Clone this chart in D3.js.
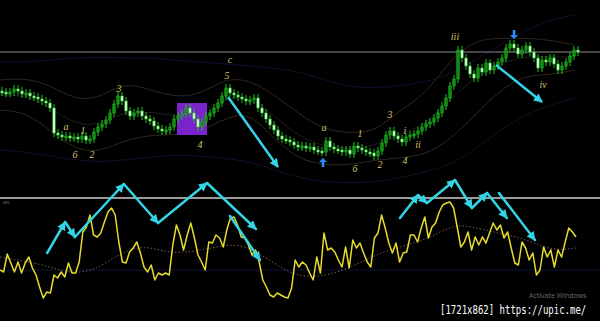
<!DOCTYPE html>
<meta charset="utf-8">
<html>
<head>
<title>Wave count chart</title>
<style>
    *{ margin:0; padding:0;}
    body{ background:#000; overflow:hidden;}
</style>
<script src="https://cdnjs.cloudflare.com/ajax/libs/d3/7.8.5/d3.min.js"></script>
</head>
<body>
<div id="chart"></div>
<script>
    // candle closes (one per bar), price units
    var closes = [108,107,108,111,109,106,107,104,103,101,99,97,92,67,65,63,64,62,63,61,
        64,60,61,68,73,76,80,87,96,104,99,89,84,87,89,84,81,79,74,71,
        69,70,73,81,84,86,92,87,81,73,78,84,87,92,97,104,112,107,105,103,
        101,99,100,102,92,87,81,75,70,64,61,60,58,55,53,54,52,53,50,49,
        48,59,53,51,50,48,50,46,54,52,50,48,47,44,49,57,65,69,64,61,
        58,63,65,66,69,73,76,78,82,87,94,102,114,121,150,142,134,126,122,132,
        128,137,130,134,138,142,152,156,152,146,150,154,148,142,132,140,138,142,136,130,
        134,138,144,150,148];

    // bollinger style bands, sampled every 25 px of screen
    var upperBand  = [120,122,115,100,102,118,110,103,105,122,120,105,85,70,67,68,90,105,140,160,162,162,160,155];
    var middleBand = [105,105,93,75,75,89,88,84,87,102,104,83,63,53,51,54,66,75,100,123,136,144,143,143];
    var lowerBand  = [90,88,70,50,48,60,65,65,68,82,88,60,40,35,35,40,42,45,60,85,110,125,125,130];
    var navyTop    = [138,138,140,142,143,142,142,140,138,136,134,132,128,120,113,112,114,118,125,140,155,170,180,185];
    var navyBottom = [50,48,44,40,38,40,43,45,44,42,38,30,22,18,17,18,22,28,35,50,70,85,95,102];
    var levelPrice = 148;

    // oscillator
    var osc = [30,28,46,37,28,38,27,37,43,32,25,13,2,8,7,25,22,28,23,37,27,27,38,68,73,85,65,63,67,78,88,92,85,58,38,37,48,52,58,47,33,28,
        35,20,27,25,27,25,55,75,65,50,65,77,62,45,38,30,58,57,65,62,53,70,82,83,75,63,62,55,45,50,38,20,13,5,3,7,5,3,2,12,40,33,
        38,35,27,20,43,27,67,50,52,48,40,33,53,32,60,52,57,47,38,33,62,67,85,72,57,47,57,38,47,48,65,65,58,72,83,62,73,77,88,95,
        97,98,92,73,53,58,68,50,63,55,63,57,67,77,70,75,62,68,52,37,35,58,52,40,47,25,30,53,43,50,33,50,43,58,72,68,63];
    var oscMa = [43,39,34,26,30,47,55,47,48,53,57,44,27,22,27,37,49,55,63,77,71,66,60,49,52];
    var oscBase = 30;

    // annotations: [bar, price]
    var waveLabels = [
        {t:"a", bar:16, p:70}, {t:"1", bar:20.25, p:66}, {t:"6", bar:18.25, p:42}, {t:"2", bar:22.5, p:42},
        {t:"3", bar:29.25, p:108}, {t:"4", bar:49.5, p:52}, {t:"5", bar:56.25, p:121}, {t:"c", bar:57, p:137},
        {t:"a", bar:80.5, p:69}, {t:"1", bar:89.5, p:63}, {t:"6", bar:88.25, p:28}, {t:"2", bar:94.5, p:32},
        {t:"3", bar:97, p:82}, {t:"4", bar:100.75, p:36}, {t:"i", bar:100.75, p:66}, {t:"ii", bar:104, p:52},
        {t:"iii", bar:113.25, p:160}, {t:"iv", bar:135.25, p:112}
    ];
    var boxZone = {from:43.75, to:51.25, low:65, high:97};
    var priceArrows = [[[56.5,103],[69,33]], [[123.5,135],[135,98]]];
    var signals = [{bar:80.25, p:37, dir:"up"}, {bar:128, p:166, dir:"down"}];

    // oscillator arrows: [osc index, value]
    var oscArrows = [
        [[13.1,47],[18.1,78],[20.8,63],[34.4,116],[43.9,77],[57.5,117],[71.1,71]],
        [[63.9,84],[72.2,40]],
        [[111.1,82],[116.1,105],[118.6,97],[126.4,120],[131.1,92],[135.3,107],[140.8,82]],
        [[138.6,107],[148.6,60]]
    ];

    var width = 600, height = 321;
    var svg = d3.select("#chart").append("svg")
        .attr("width", width).attr("height", height)
        .style("display", "block").style("background", "#000");

    var defs = svg.append("defs");
    defs.append("marker").attr("id", "head")
        .attr("viewBox", "0 0 10 10").attr("refX", 9).attr("refY", 5)
        .attr("markerUnits", "userSpaceOnUse").attr("markerWidth", 9).attr("markerHeight", 9)
        .attr("orient", "auto")
        .append("path").attr("d", "M0,0 L10,5 L0,10 z").attr("fill", "#33d4e6");

    var xBar = d3.scaleLinear().domain([0, closes.length - 1]).range([2, 578]);
    var yPrice = d3.scaleLinear().domain([0, 200]).range([200, 0]);
    var xBand = d3.scaleLinear().domain([0, upperBand.length - 1]).range([0, 575]);
    var xOsc = d3.scaleLinear().domain([0, osc.length - 1]).range([0, 576]);
    var xMa = d3.scaleLinear().domain([0, oscMa.length - 1]).range([0, 576]);
    var yOsc = d3.scaleLinear().domain([0, 100]).range([300, 200]);

    var bandLine = d3.line().x(function(d, i){ return xBand(i); }).y(function(d){ return yPrice(d); }).curve(d3.curveBasis);

    // price panel
    var bands = [[navyTop, "#10102e"], [navyBottom, "#10102e"], [upperBand, "#2e281c"], [middleBand, "#1f1f1f"], [lowerBand, "#2e281c"]];
    bands.forEach(function(b){
        svg.append("path").attr("d", bandLine(b[0]))
            .attr("fill", "none").attr("stroke", b[1]).attr("stroke-width", 1);
    });

    svg.append("line").attr("x1", 0).attr("x2", width)
        .attr("y1", yPrice(levelPrice)).attr("y2", yPrice(levelPrice))
        .attr("stroke", "#8a8a8a").attr("stroke-width", 1);

    svg.append("rect")
        .attr("x", xBar(boxZone.from)).attr("y", yPrice(boxZone.high))
        .attr("width", xBar(boxZone.to) - xBar(boxZone.from))
        .attr("height", yPrice(boxZone.low) - yPrice(boxZone.high))
        .attr("fill", "#7a22cc");

    var candles = closes.map(function(c, i){
        var o = i > 0 ? closes[i - 1] : c + 1;
        return {i:i, o:o, c:c, h:Math.max(o, c) + 4, l:Math.min(o, c) - 4};
    });

    var cg = svg.append("g").selectAll("g").data(candles).enter().append("g");
    cg.append("line")
        .attr("x1", function(d){ return xBar(d.i); }).attr("x2", function(d){ return xBar(d.i); })
        .attr("y1", function(d){ return yPrice(d.h); }).attr("y2", function(d){ return yPrice(d.l); })
        .attr("stroke", "#1cc01c").attr("stroke-width", 1);
    cg.append("rect")
        .attr("x", function(d){ return xBar(d.i) - 1.2; })
        .attr("y", function(d){ return yPrice(Math.max(d.o, d.c)); })
        .attr("width", 2.4)
        .attr("height", function(d){ return Math.max(2, Math.abs(yPrice(d.o) - yPrice(d.c))); })
        .attr("fill", function(d){ return d.c >= d.o ? "#118a11" : "#e4f8e4"; })
        .attr("stroke", "#1cc01c").attr("stroke-width", 0.6);

    svg.append("g").selectAll("text").data(waveLabels).enter().append("text")
        .attr("x", function(d){ return xBar(d.bar); })
        .attr("y", function(d){ return yPrice(d.p); })
        .attr("text-anchor", "middle")
        .style("font-family", "'Liberation Serif', serif")
        .style("font-style", "italic")
        .style("font-size", "10px")
        .style("fill", "#d8c464")
        .text(function(d){ return d.t; });

    priceArrows.forEach(function(a){
        svg.append("line")
            .attr("x1", xBar(a[0][0])).attr("y1", yPrice(a[0][1]))
            .attr("x2", xBar(a[1][0])).attr("y2", yPrice(a[1][1]))
            .attr("stroke", "#33d4e6").attr("stroke-width", 2.5)
            .attr("marker-end", "url(#head)");
    });

    svg.append("g").selectAll("path").data(signals).enter().append("path")
        .attr("transform", function(d){
            return "translate(" + xBar(d.bar) + "," + yPrice(d.p) + ")" + (d.dir == "down" ? " rotate(180)" : "");
        })
        .attr("d", "M0,-5 L4,-1 L1.3,-1 L1.3,4 L-1.3,4 L-1.3,-1 L-4,-1 Z")
        .attr("fill", "#2a8cff");

    // oscillator panel
    svg.append("line").attr("x1", 0).attr("x2", width)
        .attr("y1", yOsc(oscBase)).attr("y2", yOsc(oscBase))
        .attr("stroke", "#12123a").attr("stroke-width", 1);

    svg.append("path")
        .attr("d", d3.line().x(function(d, i){ return xMa(i); }).y(function(d){ return yOsc(d); }).curve(d3.curveBasis)(oscMa))
        .attr("fill", "none").attr("stroke", "#7a5a58").attr("stroke-width", 1)
        .attr("stroke-dasharray", "1.5,2");

    svg.append("path")
        .attr("d", d3.line().x(function(d, i){ return xOsc(i); }).y(function(d){ return yOsc(d); })(osc))
        .attr("fill", "none").attr("stroke", "#e6dc2c").attr("stroke-width", 1.5)
        .attr("stroke-linejoin", "round");

    svg.append("line").attr("x1", 0).attr("x2", width)
        .attr("y1", 198).attr("y2", 198)
        .attr("stroke", "#9a9a9a").attr("stroke-width", 2);
    svg.append("text").attr("x", 3).attr("y", 204)
        .style("font-family", "'DejaVu Sans'").style("font-size", "4px").style("fill", "#888")
        .text("OH");

    oscArrows.forEach(function(path){
        for (var k = 0; k < path.length - 1; k++) {
            svg.append("line")
                .attr("x1", xOsc(path[k][0])).attr("y1", yOsc(path[k][1]))
                .attr("x2", xOsc(path[k + 1][0])).attr("y2", yOsc(path[k + 1][1]))
                .attr("stroke", "#33d4e6").attr("stroke-width", 2.5)
                .attr("stroke-linecap", "round")
                .attr("marker-end", "url(#head)");
        }
    });

    svg.append("text").attr("x", 529).attr("y", 298)
        .style("font-family", "'Open Sans', sans-serif").style("font-size", "7px").style("fill", "#6e6e6e")
        .text("Activate Windows");

    // condensed watermark: narrow mono font stretched vertically
    svg.append("text")
        .attr("transform", "translate(440,314) scale(1,1.35)")
        .style("font-family", "'DejaVu Sans Mono', monospace").style("font-size", "9px").style("fill", "#fff")
        .text("[1721x862] https://upic.me/");
</script>
</body>
</html>
